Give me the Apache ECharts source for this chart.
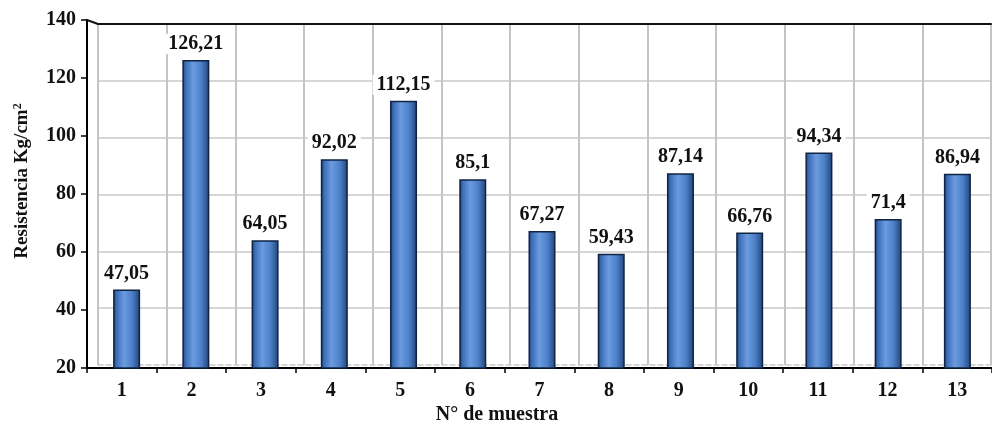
<!DOCTYPE html>
<html>
<head>
<meta charset="utf-8">
<script src="https://cdn.jsdelivr.net/npm/echarts@6/dist/echarts.min.js"></script>
<style>
  html, body { margin: 0; padding: 0; background: #ffffff; }
  #chart { width: 992px; height: 425px; }
</style>
</head>
<body>
<div id="chart"></div>
<script>
// Compressive strength per sample
const muestras = ['1', '2', '3', '4', '5', '6', '7', '8', '9', '10', '11', '12', '13'];
const resistencia = [47.05, 126.21, 64.05, 92.02, 112.15, 85.1, 67.27, 59.43, 87.14, 66.76, 94.34, 71.4, 86.94];
const yTicks = [20, 40, 60, 80, 100, 120, 140];

const FONT = '"Liberation Serif", "Times New Roman", serif';
const yMin = yTicks[0], yMax = yTicks[yTicks.length - 1], yStep = yTicks[1] - yTicks[0];

// front axes, back wall (pseudo-3D) and bar layer
const front = { left: 87, top: 20, width: 915, height: 348 };
const wall = { left: 98, top: 24, width: 893, height: 341 };
const bars = { left: 92, top: 20, width: 905, height: 348 };

const chart = echarts.init(document.getElementById('chart'), null, { renderer: 'canvas' });

const fmt = v => String(v).replace('.', ',');

const barFill = new echarts.graphic.LinearGradient(0, 0, 1, 0, [
  { offset: 0, color: '#1b3f76' },
  { offset: 0.12, color: '#3c6cb4' },
  { offset: 0.4, color: '#6a9be0' },
  { offset: 0.7, color: '#4d80c8' },
  { offset: 1, color: '#1f4477' }
]);

const option = {
  backgroundColor: '#ffffff',
  animation: false,
  grid: [
    Object.assign({ containLabel: false }, front),
    Object.assign({ containLabel: false }, wall),
    Object.assign({ containLabel: false }, bars)
  ],
  xAxis: [
    {
      gridIndex: 0, type: 'category', data: muestras, boundaryGap: true,
      axisLine: { lineStyle: { color: '#000', width: 2 } },
      axisTick: { show: true, length: 5, lineStyle: { color: '#000', width: 1.5 } },
      axisLabel: { margin: 13, fontFamily: FONT, fontWeight: 'bold', fontSize: 20, color: '#111' },
      splitLine: { show: false }
    },
    {
      gridIndex: 1, type: 'category', data: muestras, boundaryGap: true, position: 'bottom',
      axisLine: { lineStyle: { color: '#c8c8c8', width: 1.5, type: [5, 3] } },
      axisTick: { show: false }, axisLabel: { show: false },
      splitLine: { show: true, lineStyle: { color: '#c4c4c4', width: 2 } }
    },
    {
      gridIndex: 1, type: 'category', data: muestras, boundaryGap: true, position: 'top',
      axisLine: { lineStyle: { color: '#111', width: 2 } },
      axisTick: { show: false }, axisLabel: { show: false }, splitLine: { show: false }
    },
    {
      gridIndex: 2, type: 'category', data: muestras, boundaryGap: true, show: false
    }
  ],
  yAxis: [
    {
      gridIndex: 0, type: 'value', min: yMin, max: yMax, interval: yStep,
      axisLine: { show: true, lineStyle: { color: '#000', width: 2 } },
      axisTick: { show: true, length: 6, lineStyle: { color: '#000', width: 1.5 } },
      axisLabel: { margin: 11, fontFamily: FONT, fontWeight: 'bold', fontSize: 20, color: '#111' },
      splitLine: { show: false }
    },
    {
      gridIndex: 1, type: 'value', min: yMin, max: yMax, interval: yStep,
      axisLine: { show: false }, axisTick: { show: false }, axisLabel: { show: false },
      splitLine: { show: true, showMinLine: false, showMaxLine: false, lineStyle: { color: '#c8c8c8', width: 1.5 } }
    },
    {
      gridIndex: 2, type: 'value', min: yMin, max: yMax, interval: yStep, show: false,
      splitLine: { show: false }
    }
  ],
  series: [
    {
      type: 'bar',
      xAxisIndex: 3, yAxisIndex: 2,
      data: resistencia,
      barWidth: 27,
      itemStyle: { color: barFill, borderColor: '#0f2343', borderWidth: 1.5 },
      label: {
        show: true, position: 'top', distance: 6,
        formatter: p => fmt(p.value),
        fontFamily: FONT, fontWeight: 'bold', fontSize: 20, color: '#111',
        backgroundColor: '#ffffff', padding: [0, 4]
      },
      z: 3
    }
  ],
  graphic: [
    {
      type: 'line', silent: true, z: 5,
      shape: { x1: front.left, y1: front.top, x2: wall.left, y2: wall.top },
      style: { stroke: '#111', lineWidth: 2 }
    },
    {
      type: 'text', silent: true,
      x: 22, y: 181, rotation: Math.PI / 2,
      style: {
        text: 'Resistencia Kg/cm{sup|2}', fontFamily: FONT, fontWeight: 'bold', fontSize: 19,
        fill: '#111', align: 'center', verticalAlign: 'middle',
        rich: {
          sup: { fontFamily: FONT, fontWeight: 'bold', fontSize: 12, fill: '#111', verticalAlign: 'top', padding: [0, 0, 8, 0] }
        }
      }
    },
    {
      type: 'text', silent: true,
      x: 497, y: 415,
      style: {
        text: 'N° de muestra', fontFamily: FONT, fontWeight: 'bold', fontSize: 20,
        fill: '#111', align: 'center', verticalAlign: 'middle'
      }
    }
  ]
};

chart.setOption(option);
</script>
</body>
</html>
